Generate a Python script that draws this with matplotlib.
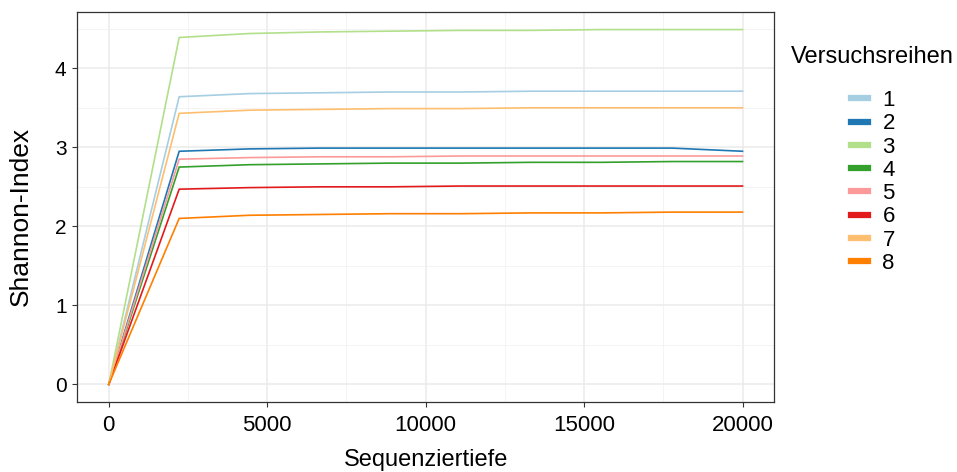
import matplotlib
matplotlib.use("Agg")
import matplotlib.pyplot as plt
from matplotlib.lines import Line2D

plt.rcParams["font.family"] = ["Liberation Sans", "DejaVu Sans"]

# rarefaction depths and Shannon index per sample series
depth = [1, 2223, 4445, 6668, 8890, 11112, 13335, 15557, 17779, 20000]
series = ["1", "2", "3", "4", "5", "6", "7", "8"]
s1 = [0, 3.64, 3.68, 3.69, 3.70, 3.70, 3.71, 3.71, 3.71, 3.71]
s2 = [0, 2.95, 2.98, 2.99, 2.99, 2.99, 2.99, 2.99, 2.99, 2.95]
s3 = [0, 4.39, 4.44, 4.46, 4.47, 4.48, 4.48, 4.49, 4.49, 4.49]
s4 = [0, 2.75, 2.78, 2.79, 2.80, 2.80, 2.81, 2.81, 2.82, 2.82]
s5 = [0, 2.85, 2.87, 2.88, 2.88, 2.89, 2.89, 2.89, 2.89, 2.89]
s6 = [0, 2.47, 2.49, 2.50, 2.50, 2.51, 2.51, 2.51, 2.51, 2.51]
s7 = [0, 3.43, 3.47, 3.48, 3.49, 3.49, 3.50, 3.50, 3.50, 3.50]
s8 = [0, 2.10, 2.14, 2.15, 2.16, 2.16, 2.17, 2.17, 2.18, 2.18]
values = [s1, s2, s3, s4, s5, s6, s7, s8]
colors = ["#A6CEE3", "#1F78B4", "#B2DF8A", "#33A02C",
          "#FB9A99", "#E31A1C", "#FDBF6F", "#FF7F00"]

fig = plt.figure(figsize=(9.57, 4.72), dpi=100)
ax = fig.add_axes([0.0805, 0.148, 0.7285, 0.827])

for vals, col in zip(values, colors):
    ax.plot(depth, vals, color=col, lw=1.2, zorder=3)

ax.set_xlim(-1000, 21000)
ax.set_ylim(-0.225, 4.715)
ax.set_xticks([0, 5000, 10000, 15000, 20000])
ax.set_yticks([0, 1, 2, 3, 4])
ax.set_xticks([2500, 7500, 12500, 17500], minor=True)
ax.set_yticks([0.5, 1.5, 2.5, 3.5, 4.5], minor=True)
ax.grid(which="major", color="#EBEBEB", lw=1.1)
ax.grid(which="minor", color="#F2F2F2", lw=0.6)
ax.tick_params(which="minor", length=0)
ax.tick_params(which="major", length=3.5, color="#333333", width=0.8)
ax.tick_params(axis="x", labelsize=16, pad=6)
ax.tick_params(axis="y", labelsize=15, pad=4)
for sp in ax.spines.values():
    sp.set_color("#333333")
    sp.set_linewidth(0.9)
ax.set_xlabel("Sequenziertiefe", fontsize=17)
ax.set_ylabel("Shannon-Index", fontsize=19)
ax.xaxis.set_label_coords(0.5, -0.12)
ax.yaxis.set_label_coords(-0.063, 0.475)

handles = [Line2D([], [], color=c, lw=4.5) for c in colors]
leg = fig.legend(handles, series, loc="upper left",
                 bbox_to_anchor=(0.806, 0.945), frameon=False,
                 title="Versuchsreihen", fontsize=16, title_fontsize=17,
                 handlelength=0.8, labelspacing=0.1, handletextpad=0.63)
leg._legend_box.sep = 16

fig.savefig("out.png", dpi=100)
